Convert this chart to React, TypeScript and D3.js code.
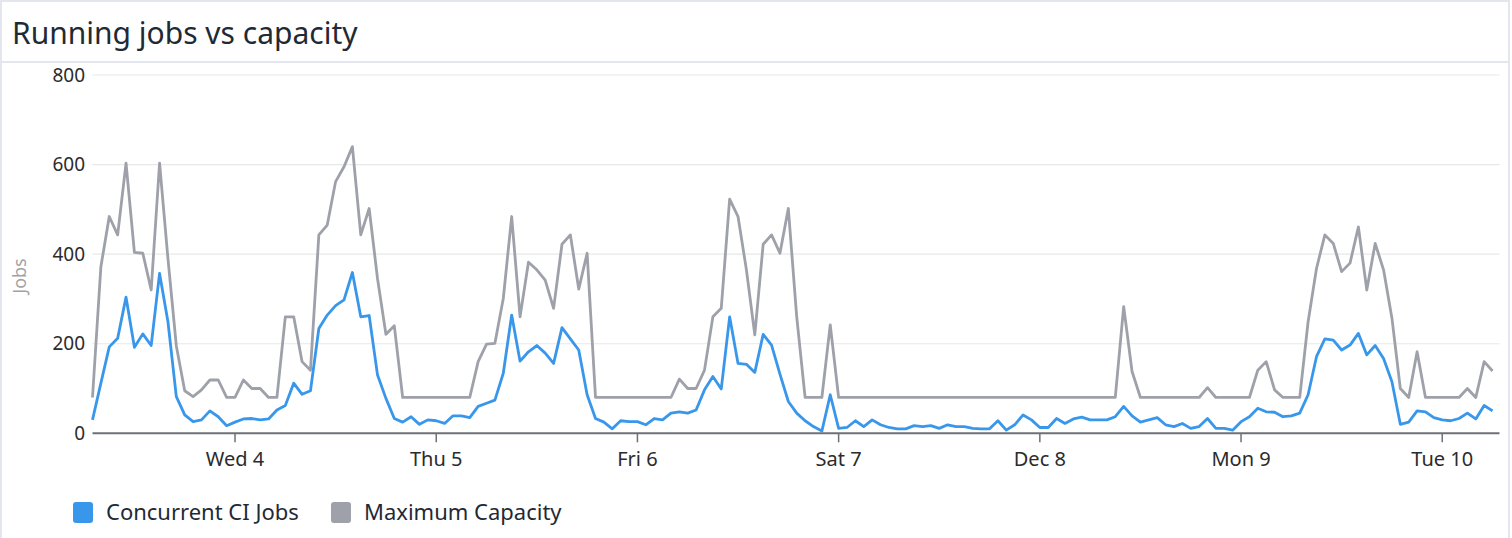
import * as d3 from "d3";

// hourly samples, first one at Tue Dec 3 2024 07:00
const START = Date.UTC(2024, 11, 3, 7);
const HOUR = 3600 * 1000;

const concurrentJobs = [
  30, 112, 193, 212, 304, 192, 222, 196, 357, 249, 82, 41, 26, 30, 50, 37, 17, 25, 32, 33,
  30, 32, 52, 62, 112, 87, 95, 234, 264, 285, 298, 359, 260, 263, 130, 78, 33, 25, 37, 20,
  30, 28, 22, 39, 39, 35, 60, 67, 74, 134, 264, 161, 182, 196, 179, 156, 236, 211, 186, 86,
  33, 25, 10, 28, 26, 26, 19, 33, 30, 45, 48, 45, 52, 97, 127, 99, 260, 156, 154, 136,
  221, 197, 132, 71, 45, 28, 15, 5, 86, 11, 13, 28, 15, 30, 19, 13, 10, 10, 17, 15,
  17, 11, 19, 15, 15, 11, 10, 10, 28, 7, 19, 41, 30, 13, 13, 33, 22, 32, 36, 30,
  30, 30, 37, 60, 39, 25, 30, 35, 19, 15, 22, 11, 15, 33, 11, 11, 7, 26, 37, 56,
  48, 47, 37, 39, 45, 86, 171, 211, 208, 186, 197, 223, 175, 196, 167, 115, 20, 25, 50, 48,
  35, 30, 28, 33, 45, 32, 62, 50,
];

const maxCapacity = [
  80, 372, 484, 443, 603, 404, 402, 320, 603, 390, 195, 95, 82, 97, 119, 119, 80, 80, 119, 100,
  100, 80, 80, 260, 260, 160, 141, 443, 465, 562, 595, 640, 443, 502, 345, 221, 240, 80, 80, 80,
  80, 80, 80, 80, 80, 80, 160, 199, 201, 301, 484, 260, 382, 365, 342, 279, 422, 443, 322, 402,
  80, 80, 80, 80, 80, 80, 80, 80, 80, 80, 121, 100, 100, 141, 260, 279, 523, 484, 365, 220,
  422, 443, 402, 502, 260, 80, 80, 80, 242, 80, 80, 80, 80, 80, 80, 80, 80, 80, 80, 80,
  80, 80, 80, 80, 80, 80, 80, 80, 80, 80, 80, 80, 80, 80, 80, 80, 80, 80, 80, 80,
  80, 80, 80, 283, 138, 80, 80, 80, 80, 80, 80, 80, 80, 102, 80, 80, 80, 80, 80, 141,
  160, 97, 80, 80, 80, 249, 368, 443, 424, 361, 380, 461, 320, 424, 365, 257, 100, 80, 182, 80,
  80, 80, 80, 80, 100, 80, 160, 139,
];

const yTicks = [0, 200, 400, 600, 800];
const seriesNames = ["Concurrent CI Jobs", "Maximum Capacity"];
const seriesColors = ["#3897eb", "#9ea1a9"];

const W = 1512;
const H = 538;
const FONT = "'Noto Sans', 'Open Sans', sans-serif";

export default function App() {
  const x = d3
    .scaleUtc()
    .domain([new Date(START), new Date(START + 167.83 * HOUR)])
    .range([92.5, 1499.5]);
  const y = d3.scaleLinear().domain([0, 800]).range([433.3, 75]);

  const dayTicks = x.ticks(d3.utcDay.every(1)!);
  const fmtDay = d3.utcFormat("%a %-d");
  const fmtMonth = d3.utcFormat("%b %-d");
  const tickLabel = (d: Date) => (d.getUTCDay() === 0 ? fmtMonth(d) : fmtDay(d));

  const line = d3
    .line<number>()
    .x((_, i) => x(new Date(START + i * HOUR)))
    .y((v) => y(v));

  const series = [concurrentJobs, maxCapacity];
  const [x0, x1] = x.range();

  return (
    <>
      <style>{`body{margin:0}`}</style>
      <svg width={W} height={H} style={{ display: "block", fontFamily: FONT }}>
        <rect x={1} y={1} width={1508} height={H + 10} fill="#fff" stroke="#e3e6ef" strokeWidth={2} />
        <text x={12} y={44} fontSize={30} fill="#1f2a35">
          Running jobs vs capacity
        </text>
        <line x1={1} x2={1509} y1={62} y2={62} stroke="#e3e6ef" strokeWidth={2} />

        {yTicks.map((t) => (
          <g key={t}>
            {t > 0 && (
              <line x1={x0} x2={x1} y1={y(t)} y2={y(t)} stroke="#e8e8e8" strokeWidth={1.2} />
            )}
            <text x={85} y={y(t)} dy="0.35em" textAnchor="end" fontSize={19} fill="#2b2b2b">
              {t}
            </text>
          </g>
        ))}
        <text
          transform={`translate(26,276) rotate(-90)`}
          textAnchor="middle"
          fontSize={18}
          fill="#a3a3a3"
        >
          Jobs
        </text>

        {series.map((s, k) => (
          <path
            key={k}
            d={line(s) ?? ""}
            fill="none"
            stroke={seriesColors[k]}
            strokeWidth={2.8}
            strokeLinejoin="round"
          />
        ))}

        <line x1={x0} x2={x1} y1={y(0)} y2={y(0)} stroke="#6e7079" strokeWidth={2} />
        {dayTicks.map((d) => (
          <g key={+d} transform={`translate(${x(d)},0)`}>
            <line y1={y(0)} y2={y(0) + 9} stroke="#6e7079" strokeWidth={1.5} />
            <text y={466} textAnchor="middle" fontSize={20} fill="#2b2b2b">
              {tickLabel(d)}
            </text>
          </g>
        ))}

        {seriesNames.map((name, k) => {
          const lx = k === 0 ? 73 : 331;
          return (
            <g key={name} transform={`translate(${lx},502)`}>
              <rect width={20} height={21} rx={3} fill={seriesColors[k]} />
              <text x={33} y={18} fontSize={22} fill="#1f2a35">
                {name}
              </text>
            </g>
          );
        })}
      </svg>
    </>
  );
}
